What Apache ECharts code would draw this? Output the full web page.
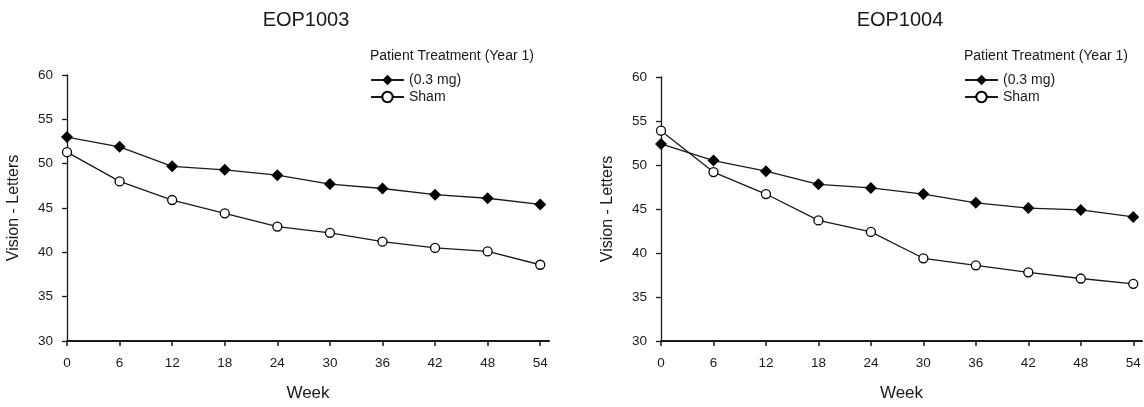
<!DOCTYPE html>
<html>
<head>
<meta charset="utf-8">
<script src="https://cdn.jsdelivr.net/npm/echarts@6/dist/echarts.min.js"></script>
<style>
html,body{margin:0;padding:0;background:#fff;}
#chart{width:1144px;height:407px;}
</style>
</head>
<body>
<div id="chart"></div>
<script>
var weeks = [0, 6, 12, 18, 24, 30, 36, 42, 48, 54];
var yTicks = [30, 35, 40, 45, 50, 55, 60];
var titles = ['EOP1003', 'EOP1004'];
var seriesNames = ['(0.3 mg)', 'Sham'];
var legendTitle = 'Patient Treatment (Year 1)';
var eop1003Dose = [53.0, 51.9, 49.7, 49.3, 48.7, 47.7, 47.2, 46.5, 46.1, 45.4];
var eop1003Sham = [51.3, 48.0, 45.9, 44.4, 42.9, 42.2, 41.2, 40.5, 40.1, 38.6];
var eop1004Dose = [52.4, 50.5, 49.3, 47.8, 47.4, 46.7, 45.7, 45.1, 44.9, 44.1];
var eop1004Sham = [53.9, 49.2, 46.7, 43.7, 42.4, 39.4, 38.6, 37.8, 37.1, 36.5];

var FONT = '"Liberation Sans", Arial, sans-serif';
var INK = '#1a1a1a';

function pairs(vals) {
  return weeks.map(function (w, i) { return [w, vals[i]]; });
}

var panels = [
  { grid: { left: 67, top: 75, width: 482, height: 266 }, dose: eop1003Dose, sham: eop1003Sham, cx: 306, lx: 370 },
  { grid: { left: 661, top: 77, width: 481, height: 266 }, dose: eop1004Dose, sham: eop1004Sham, cx: 900, lx: 964 }
];

var option = {
  backgroundColor: '#fff',
  animation: false,
  title: [],
  legend: [],
  grid: [],
  xAxis: [],
  yAxis: [],
  series: []
};

panels.forEach(function (p, k) {
  option.title.push({
    text: titles[k], left: p.cx, top: 10, textAlign: 'center', padding: 0,
    textStyle: { fontFamily: FONT, fontSize: 20, fontWeight: 'normal', color: INK }
  });
  option.title.push({
    text: legendTitle, left: p.lx, top: 49, padding: 0,
    textStyle: { fontFamily: FONT, fontSize: 14, fontWeight: 'normal', color: INK }
  });
  option.legend.push({
    data: seriesNames.slice(), orient: 'vertical', left: p.lx, top: 73, padding: 0,
    itemWidth: 33, itemHeight: 13, itemGap: 3, selectedMode: false,
    textStyle: { fontFamily: FONT, fontSize: 14, color: INK }
  });
  option.grid.push(Object.assign({ containLabel: false }, p.grid));
  option.xAxis.push({
    type: 'value', gridIndex: k, min: 0, max: 55,
    name: 'Week', nameLocation: 'middle', nameGap: 44,
    nameTextStyle: { fontFamily: FONT, fontSize: 17, color: INK },
    axisLine: { show: true, onZero: false, lineStyle: { color: INK, width: 2 } },
    axisTick: { show: true, length: 5, customValues: weeks, lineStyle: { color: INK, width: 1.5 } },
    axisLabel: { customValues: weeks, margin: 15, fontFamily: FONT, fontSize: 13.5, color: INK },
    splitLine: { show: false }
  });
  option.yAxis.push({
    type: 'value', gridIndex: k, min: 30, max: 60, interval: 5,
    name: 'Vision - Letters', nameLocation: 'middle', nameGap: 45, nameRotate: 90,
    nameTextStyle: { fontFamily: FONT, fontSize: 16, color: INK },
    axisLine: { show: true, lineStyle: { color: INK, width: 1.3 } },
    axisTick: { show: true, length: 5, lineStyle: { color: INK, width: 1.3 } },
    axisLabel: { margin: 14, fontFamily: FONT, fontSize: 13.5, color: INK },
    splitLine: { show: false }
  });
  option.series.push({
    name: seriesNames[0], type: 'line', xAxisIndex: k, yAxisIndex: k,
    data: pairs(p.dose), symbol: 'diamond', symbolSize: 12,
    lineStyle: { color: INK, width: 1.3 },
    itemStyle: { color: '#000', borderColor: '#000', borderWidth: 0 },
    z: 3
  });
  option.series.push({
    name: seriesNames[1], type: 'line', xAxisIndex: k, yAxisIndex: k,
    data: pairs(p.sham), symbol: 'circle', symbolSize: 9,
    lineStyle: { color: INK, width: 1.3 },
    itemStyle: { color: '#fff', borderColor: '#000', borderWidth: 1.3 },
    z: 2
  });
});

var chart = echarts.init(document.getElementById('chart'), null, { renderer: 'canvas' });
chart.setOption(option);
</script>
</body>
</html>
